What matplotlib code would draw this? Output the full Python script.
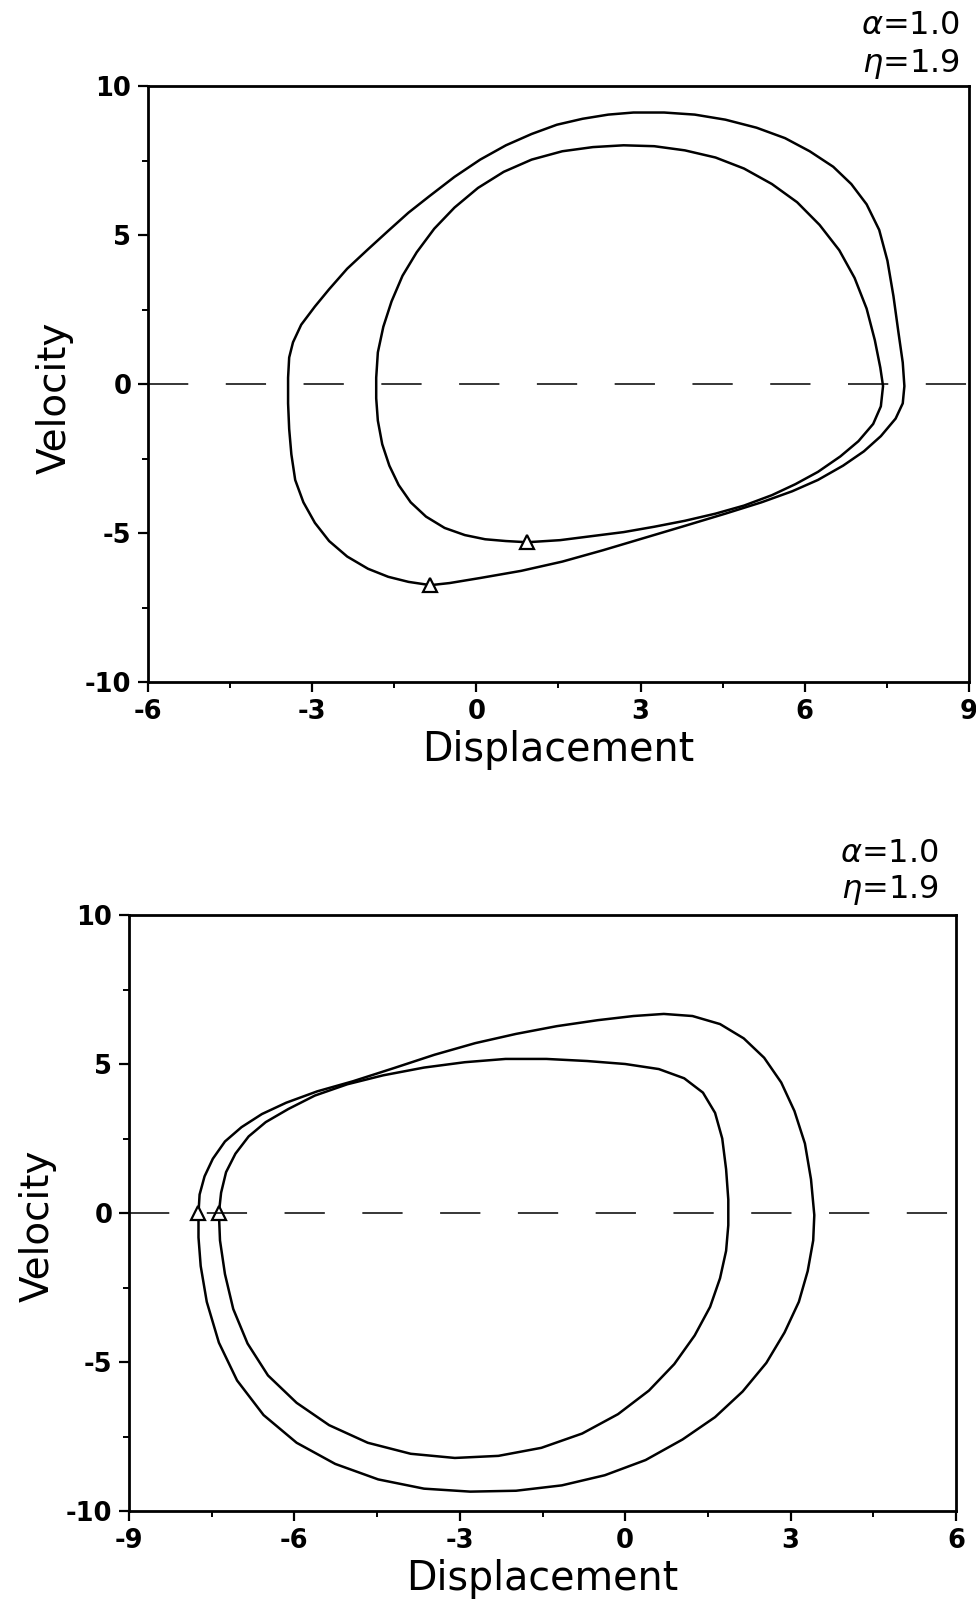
import matplotlib
matplotlib.use("Agg")
import matplotlib.pyplot as plt
from matplotlib.ticker import MultipleLocator

plt.rcParams['font.family'] = ['DejaVu Sans']
plt.rcParams['lines.scale_dashes'] = False
plt.rcParams['axes.unicode_minus'] = False

# ---- upper panel: phase-plane orbit (two loops) ----
top_outer_x = [-0.84, -1.24, -1.61, -1.98, -2.36, -2.69, -2.95, -3.16, -3.31, -3.38,
               -3.42, -3.44, -3.44, -3.42, -3.35, -3.20, -2.95, -2.69, -2.36, -1.98,
               -1.61, -1.24, -0.86, -0.40, 0.07, 0.54, 1.01, 1.47, 1.94, 2.41,
               2.87, 3.43, 3.99, 4.55, 5.12, 5.64, 6.09, 6.52, 6.85, 7.13,
               7.36, 7.51, 7.62, 7.71, 7.79, 7.82, 7.79, 7.66, 7.39, 7.08,
               6.70, 6.24, 5.77, 5.21, 4.55, 3.81, 3.06, 2.31, 1.57, 0.82,
               0.07, -0.49]
top_outer_y = [-6.75, -6.64, -6.47, -6.20, -5.79, -5.27, -4.66, -3.97, -3.22, -2.36,
               -1.51, -0.65, 0.21, 0.89, 1.40, 1.99, 2.60, 3.18, 3.87, 4.52,
               5.14, 5.75, 6.30, 6.95, 7.53, 8.01, 8.39, 8.70, 8.90, 9.04,
               9.11, 9.11, 9.04, 8.87, 8.60, 8.25, 7.81, 7.29, 6.71, 6.03,
               5.17, 4.14, 2.95, 1.75, 0.72, -0.07, -0.65, -1.16, -1.75, -2.26,
               -2.74, -3.22, -3.60, -3.97, -4.35, -4.76, -5.17, -5.58, -5.96, -6.27,
               -6.51, -6.68]

top_inner_x = [0.93, 0.54, 0.16, -0.21, -0.58, -0.92, -1.20, -1.42, -1.59, -1.72,
               -1.80, -1.83, -1.83, -1.80, -1.70, -1.55, -1.35, -1.09, -0.77, -0.40,
               0.03, 0.50, 1.01, 1.57, 2.13, 2.69, 3.25, 3.81, 4.37, 4.89,
               5.40, 5.86, 6.27, 6.63, 6.91, 7.13, 7.28, 7.38, 7.43, 7.39,
               7.25, 6.98, 6.65, 6.24, 5.83, 5.40, 4.89, 4.37, 3.81, 3.25,
               2.69, 2.13, 1.53]
top_inner_y = [-5.31, -5.27, -5.21, -5.07, -4.83, -4.45, -3.97, -3.39, -2.74, -2.02,
               -1.23, -0.48, 0.21, 1.06, 1.92, 2.77, 3.63, 4.42, 5.21, 5.92,
               6.58, 7.12, 7.53, 7.81, 7.95, 8.01, 7.98, 7.84, 7.60, 7.23,
               6.71, 6.10, 5.34, 4.49, 3.56, 2.53, 1.47, 0.55, -0.07, -0.75,
               -1.34, -1.92, -2.43, -2.95, -3.36, -3.73, -4.08, -4.35, -4.59, -4.79,
               -4.97, -5.10, -5.24]

top_mark_x = [-0.84, 0.93]
top_mark_y = [-6.75, -5.31]

# ---- lower panel: phase-plane orbit (two loops) ----
bot_outer_x = [-7.74, -7.72, -7.63, -7.48, -7.26, -6.96, -6.59, -6.15, -5.59, -4.94,
               -4.20, -3.46, -2.72, -1.98, -1.24, -0.50, 0.15, 0.70, 1.22, 1.72,
               2.15, 2.52, 2.83, 3.07, 3.26, 3.37, 3.43, 3.41, 3.31, 3.15,
               2.89, 2.56, 2.13, 1.63, 1.04, 0.37, -0.37, -1.15, -1.98, -2.81,
               -3.65, -4.48, -5.26, -5.96, -6.56, -7.04, -7.37, -7.59, -7.70, -7.74]
bot_outer_y = [0.00, 0.62, 1.23, 1.82, 2.40, 2.88, 3.32, 3.70, 4.08, 4.42,
               4.86, 5.31, 5.70, 6.01, 6.27, 6.47, 6.61, 6.68, 6.61, 6.34,
               5.86, 5.21, 4.38, 3.42, 2.33, 1.13, -0.07, -0.92, -1.95, -2.98,
               -4.01, -5.03, -5.99, -6.85, -7.60, -8.29, -8.80, -9.14, -9.32, -9.35,
               -9.25, -8.94, -8.42, -7.71, -6.78, -5.62, -4.35, -2.98, -1.78, -0.82]

bot_inner_x = [-7.37, -7.33, -7.24, -7.07, -6.83, -6.52, -6.11, -5.63, -5.04, -4.39,
               -3.65, -2.91, -2.17, -1.43, -0.69, 0.00, 0.61, 1.07, 1.41, 1.63,
               1.76, 1.83, 1.87, 1.87, 1.83, 1.72, 1.54, 1.26, 0.89, 0.43,
               -0.13, -0.78, -1.52, -2.30, -3.09, -3.89, -4.67, -5.37, -5.96, -6.48,
               -6.85, -7.11, -7.26, -7.35]
bot_inner_y = [0.00, 0.68, 1.37, 1.99, 2.57, 3.05, 3.49, 3.94, 4.32, 4.62,
               4.88, 5.06, 5.17, 5.17, 5.10, 5.00, 4.83, 4.52, 4.04, 3.36,
               2.50, 1.47, 0.45, -0.41, -1.27, -2.19, -3.15, -4.11, -5.07, -5.96,
               -6.75, -7.40, -7.88, -8.15, -8.22, -8.08, -7.71, -7.12, -6.37, -5.45,
               -4.38, -3.22, -2.05, -0.92]

bot_mark_x = [-7.74, -7.37]
bot_mark_y = [0.0, 0.0]

param_text = [r'$\alpha$=1.0', r'$\eta$=1.9']


def closed(seq):
    return list(seq) + [seq[0]]


def style_axes(ax, xlim, ylabel_xy):
    ax.set_xlim(*xlim)
    ax.set_ylim(-10, 10)
    ax.xaxis.set_major_locator(MultipleLocator(3))
    ax.xaxis.set_minor_locator(MultipleLocator(1.5))
    ax.yaxis.set_major_locator(MultipleLocator(5))
    ax.yaxis.set_minor_locator(MultipleLocator(2.5))
    ax.tick_params(which='major', direction='out', length=7, width=1.6,
                   labelsize=18.5, pad=5)
    ax.tick_params(which='minor', direction='out', length=4.5, width=1.4)
    for lab in ax.get_xticklabels() + ax.get_yticklabels():
        lab.set_fontweight('bold')
    for s in ax.spines.values():
        s.set_linewidth(2.0)
    ax.axhline(0, color='black', lw=1.1, linestyle=(0, (29, 27)))
    ax.set_xlabel('Displacement', fontsize=28.5, labelpad=4)
    ax.set_ylabel('Velocity', fontsize=28)
    ax.yaxis.set_label_coords(*ylabel_xy)


def draw_orbit(ax, loops, mark_x, mark_y):
    for lx, ly in loops:
        ax.plot(closed(lx), closed(ly), color='black', lw=1.8,
                solid_joinstyle='round')
    ax.plot(mark_x, mark_y, linestyle='none', marker='^', markersize=10,
            markerfacecolor='white', markeredgecolor='black', markeredgewidth=1.6)


fig = plt.figure(figsize=(9.76, 16.0), dpi=100)

ax1 = fig.add_axes([0.1516, 0.57375, 0.8412, 0.3725])
draw_orbit(ax1, [(top_outer_x, top_outer_y), (top_inner_x, top_inner_y)],
           top_mark_x, top_mark_y)
style_axes(ax1, (-6, 9), (-0.091, 0.476))

ax2 = fig.add_axes([0.1322, 0.055625, 0.8473, 0.3725])
draw_orbit(ax2, [(bot_outer_x, bot_outer_y), (bot_inner_x, bot_inner_y)],
           bot_mark_x, bot_mark_y)
style_axes(ax2, (-9, 6), (-0.087, 0.479))

fig.text(960 / 976, 1 - 25 / 1600, param_text[0], ha='right', va='center', fontsize=23)
fig.text(960 / 976, 1 - 64 / 1600, param_text[1], ha='right', va='center', fontsize=23)
fig.text(939 / 976, 1 - 854 / 1600, param_text[0], ha='right', va='center', fontsize=23)
fig.text(939 / 976, 1 - 890 / 1600, param_text[1], ha='right', va='center', fontsize=23)

fig.savefig('out.png', dpi=100, facecolor='white')
